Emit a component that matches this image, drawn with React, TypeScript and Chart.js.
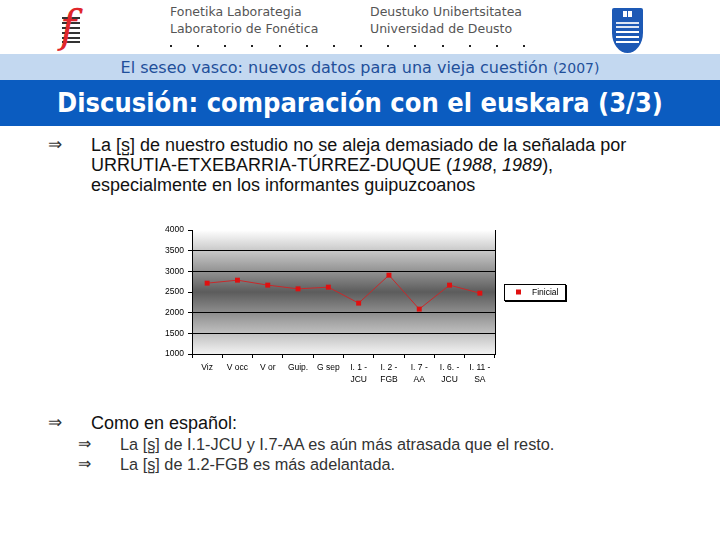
import React, { useEffect, useRef } from "react";
import { Chart, registerables } from "chart.js";

Chart.register(...registerables);

const categories: (string | string[])[] = [
  "Viz",
  "V occ",
  "V or",
  "Guip.",
  "G sep",
  ["I. 1 -", "JCU"],
  ["I. 2 -", "FGB"],
  ["I. 7 -", "AA"],
  ["I. 6. -", "JCU"],
  ["I. 11 -", "SA"],
];
const finicial = [2714, 2786, 2666, 2576, 2617, 2231, 2907, 2086, 2666, 2472];
const seriesLabel = "Finicial";
const yMin = 1000;
const yMax = 4000;
const yStep = 500;
const hiddenGridValues = [2500, 4000];

const headerDots = Array.from({ length: 14 }, (_, i) => 170 + i * 27.15);

const plotBgPlugin = {
  id: "plotBg",
  beforeDraw(chart: any) {
    const { ctx, chartArea } = chart;
    const { left, right, top, bottom } = chartArea;
    ctx.save();
    const g = ctx.createLinearGradient(0, top, 0, bottom);
    g.addColorStop(0, "#ffffff");
    g.addColorStop(0.5, "#5c5c5c");
    g.addColorStop(1, "#f2f2f2");
    ctx.fillStyle = g;
    ctx.fillRect(left, top, right - left, bottom - top);
    ctx.strokeStyle = "#000";
    ctx.lineWidth = 1;
    ctx.beginPath();
    ctx.moveTo(Math.round(right) + 0.5, top);
    ctx.lineTo(Math.round(right) + 0.5, bottom);
    ctx.stroke();
    ctx.restore();
  },
  afterDraw(chart: any) {
    const { ctx, chartArea } = chart;
    const ds = chart.data.datasets[0];
    const w = 61;
    const h = 16;
    const x = Math.round(chartArea.right + 9);
    const y = Math.round((chartArea.top + chartArea.bottom) / 2 - h / 2);
    ctx.save();
    ctx.fillStyle = "#fff";
    ctx.fillRect(x, y, w, h);
    ctx.strokeStyle = "#000";
    ctx.lineWidth = 1;
    ctx.strokeRect(x + 0.5, y + 0.5, w, h);
    ctx.fillStyle = "#000";
    ctx.fillRect(x + w, y + 1, 2, h + 1);
    ctx.fillRect(x + 1, y + h, w + 1, 2);
    ctx.fillStyle = ds.pointBackgroundColor;
    ctx.fillRect(x + 12, y + h / 2 - 2.5, 5, 5);
    ctx.fillStyle = "#000";
    ctx.font = '8.5px "Liberation Sans", Arial, sans-serif';
    ctx.textBaseline = "middle";
    ctx.textAlign = "left";
    ctx.fillText(ds.label, x + 28, y + h / 2 + 0.5);
    ctx.restore();
  },
};

function FChart() {
  const ref = useRef<HTMLCanvasElement | null>(null);
  useEffect(() => {
    if (!ref.current) return;
    const chart = new Chart(ref.current, {
      type: "line",
      data: {
        labels: categories,
        datasets: [
          {
            label: seriesLabel,
            data: finicial,
            borderColor: "#c8282a",
            borderWidth: 1,
            pointStyle: "rect",
            pointRadius: 3.5,
            pointBackgroundColor: "#e01010",
            pointBorderColor: "#e01010",
            pointBorderWidth: 0,
            tension: 0,
          },
        ],
      },
      options: {
        responsive: false,
        animation: false,
        events: [],
        layout: { padding: { top: 15, right: 75, left: 0, bottom: 0 } },
        plugins: {
          legend: { display: false },
          tooltip: { enabled: false },
        },
        scales: {
          x: {
            offset: true,
            grid: {
              offset: true,
              drawOnChartArea: false,
              tickColor: "#000",
              tickLength: 4,
            },
            border: { color: "#000", width: 1 },
            ticks: {
              autoSkip: false,
              maxRotation: 0,
              color: "#000",
              padding: 4,
              font: { size: 8.5, family: '"Liberation Sans", Arial, sans-serif', lineHeight: 1.35 },
            },
            afterFit(scale: any) {
              scale.height = 36;
            },
          },
          y: {
            min: yMin,
            max: yMax,
            ticks: {
              stepSize: yStep,
              color: "#000",
              padding: 4,
              font: { size: 8.5, family: '"Liberation Sans", Arial, sans-serif' },
              callback: (v: any) => String(v),
            },
            grid: {
              color: (c: any) =>
                c.tick && hiddenGridValues.includes(c.tick.value) ? "rgba(0,0,0,0)" : "#000",
              tickColor: "#000",
              tickLength: 4,
            },
            border: { color: "#000", width: 1 },
            afterFit(scale: any) {
              scale.width = 52;
            },
          },
        },
      },
      plugins: [plotBgPlugin],
    });
    return () => chart.destroy();
  }, []);
  return <canvas ref={ref} width={430} height={175} style={{ display: "block" }} />;
}

const abs = (left: number, top: number, extra: React.CSSProperties = {}): React.CSSProperties => ({
  position: "absolute",
  left,
  top,
  whiteSpace: "nowrap",
  ...extra,
});

export default function App() {
  const body = '"Liberation Sans", Arial, sans-serif';
  const hdr = '"DejaVu Sans", Verdana, sans-serif';
  return (
    <div
      style={{
        position: "fixed",
        left: 0,
        top: 0,
        width: 720,
        height: 540,
        background: "#fff",
        overflow: "hidden",
        fontFamily: body,
      }}
    >
      {/* f logo */}
      <div style={abs(62, 17)}>
        {[0, 5, 10, 15, 20, 24].map((d, i) => (
          <div
            key={i}
            style={{
              position: "absolute",
              left: 0,
              top: d,
              width: 18,
              height: i >= 4 ? 2 : 1.5,
              background: "#333",
            }}
          />
        ))}
      </div>
      <div
        style={abs(60, 2, {
          fontFamily: '"DejaVu Serif", serif',
          fontStyle: "italic",
          fontSize: 44,
          color: "#e0262b",
          lineHeight: "50px",
        })}
      >
        f
      </div>

      {/* header texts */}
      <div style={abs(170, 4, { fontFamily: hdr, fontSize: 12.5, color: "#555", lineHeight: "16px" })}>
        Fonetika Laborategia
      </div>
      <div style={abs(170, 21, { fontFamily: hdr, fontSize: 12.5, color: "#555", lineHeight: "16px" })}>
        Laboratorio de Fonética
      </div>
      <div style={abs(370, 4, { fontFamily: hdr, fontSize: 12.5, color: "#555", lineHeight: "16px" })}>
        Deustuko Unibertsitatea
      </div>
      <div style={abs(370, 21, { fontFamily: hdr, fontSize: 12.5, color: "#555", lineHeight: "16px" })}>
        Universidad de Deusto
      </div>
      {headerDots.map((x, i) => (
        <div key={i} style={abs(Math.round(x), 45, { width: 2, height: 2, background: "#222" })} />
      ))}

      {/* Deusto shield */}
      <div
        style={abs(612, 8, {
          width: 31,
          height: 45,
          background: "#1d59b5",
          borderRadius: "2px 2px 50% 50% / 2px 2px 45% 45%",
        })}
      >
        <div style={{ position: "absolute", left: 11, top: 3, width: 9, height: 6, background: "#fff" }} />
        <div style={{ position: "absolute", left: 15, top: 3, width: 1, height: 6, background: "#1d59b5" }} />
        {[14, 18, 23, 28, 33].map((t, i) => (
          <div
            key={i}
            style={{
              position: "absolute",
              left: 4,
              top: t,
              width: 23,
              height: 1.5,
              background: "#fff",
              opacity: i < 2 ? 0.85 : 1,
            }}
          />
        ))}
      </div>

      {/* light band */}
      <div style={abs(0, 54, { width: 720, height: 26, background: "#c3d8f0" })} />
      <div
        style={abs(0, 57, {
          width: 720,
          textAlign: "center",
          fontFamily: hdr,
          fontSize: 16,
          color: "#1f4f9a",
          lineHeight: "22px",
        })}
      >
        El seseo vasco: nuevos datos para una vieja cuestión <span style={{ fontSize: 14 }}>(2007)</span>
      </div>

      {/* title band */}
      <div style={abs(0, 80, { width: 720, height: 46, background: "#0b5cc0" })} />
      <div
        style={abs(0, 86, {
          width: 720,
          textAlign: "center",
          fontFamily: '"DejaVu Sans Condensed", "DejaVu Sans", sans-serif',
          fontStretch: "condensed",
          fontWeight: "bold",
          fontSize: 27,
          color: "#fff",
          lineHeight: "34px",
        })}
      >
        Discusión: comparación con el euskara (3/3)
      </div>

      {/* first bullet */}
      <div style={abs(48, 135, { fontSize: 17, lineHeight: "20px", color: "#333" })}>⇒</div>
      <div style={abs(91, 135, { fontSize: 18, lineHeight: "20px", color: "#111" })}>
        La [s̺] de nuestro estudio no se aleja demasiado de la señalada por
        <br />
        URRUTIA-ETXEBARRIA-TÚRREZ-DUQUE (<i>1988</i>, <i>1989</i>),
        <br />
        especialmente en los informantes guipuzcoanos
      </div>

      {/* chart */}
      <div style={abs(140, 215, { width: 430, height: 175 })}>
        <FChart />
      </div>

      {/* second bullet */}
      <div style={abs(48, 413, { fontSize: 17, lineHeight: "20px", color: "#333" })}>⇒</div>
      <div style={abs(91, 413, { fontSize: 18, lineHeight: "20px", color: "#111" })}>Como en español:</div>
      <div style={abs(78, 434, { fontSize: 16, lineHeight: "20px", color: "#333" })}>⇒</div>
      <div style={abs(120, 434, { fontSize: 16.3, lineHeight: "20px", color: "#333" })}>
        La [s̺] de I.1-JCU y I.7-AA es aún más atrasada que el resto.
      </div>
      <div style={abs(78, 454, { fontSize: 16, lineHeight: "20px", color: "#333" })}>⇒</div>
      <div style={abs(120, 454, { fontSize: 16.3, lineHeight: "20px", color: "#333" })}>
        La [s̺] de 1.2-FGB es más adelantada.
      </div>
    </div>
  );
}
